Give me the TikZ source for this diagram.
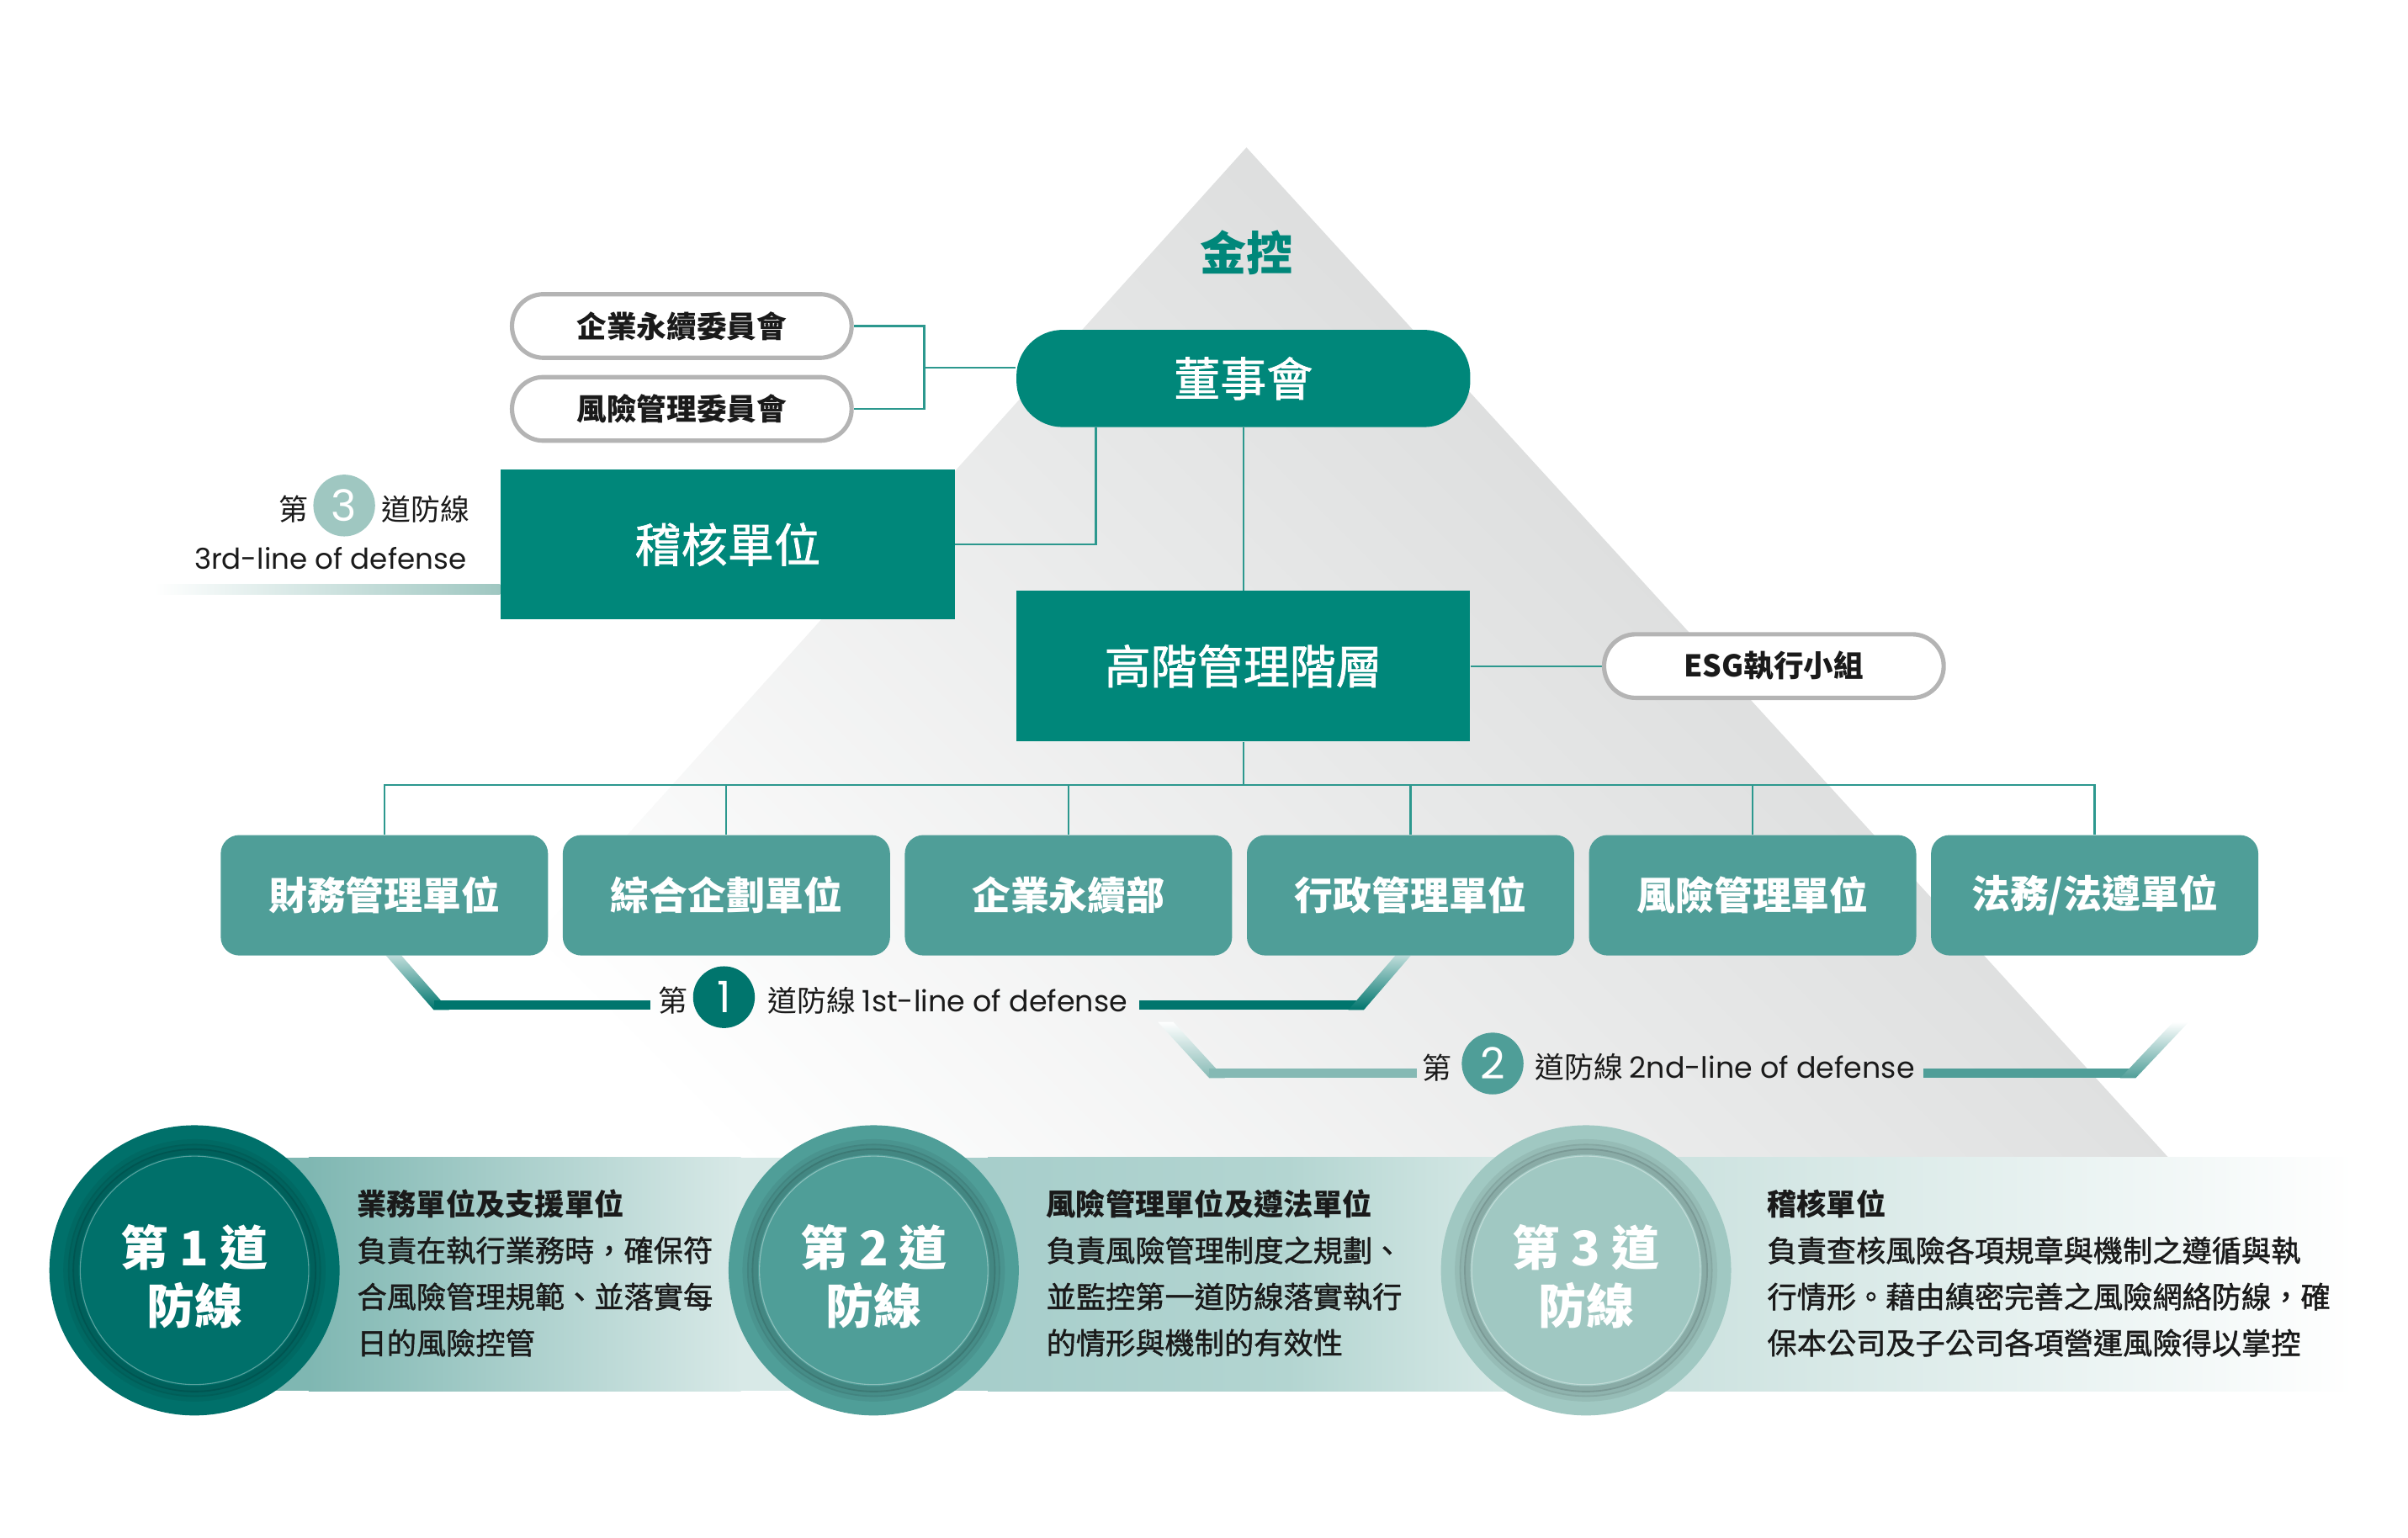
\documentclass[tikz,border=0pt]{standalone}
\usepackage{fontspec}
\setmainfont{Noto Sans CJK TC}
\newfontfamily\cjkmed[FakeBold=1.3]{Noto Sans CJK TC}
\newfontfamily\lat{Poppins}
\definecolor{tealA}{HTML}{00877A}
\definecolor{tealU}{HTML}{4F9E98}
\definecolor{tealD}{HTML}{00756D}
\definecolor{tealL}{HTML}{9FC7C1}
\definecolor{tealM}{HTML}{85B9B4}
\definecolor{lineC}{HTML}{2C988E}
\definecolor{pillB}{HTML}{B4B4B4}
\definecolor{pyrD}{HTML}{D3D4D4}
\definecolor{pyrM}{HTML}{E8E9E9}
\definecolor{txt}{HTML}{1A1A1A}
\definecolor{cA}{HTML}{00706A}
\definecolor{cB}{HTML}{4F9E98}
\definecolor{cC}{HTML}{A0C8C2}
\definecolor{bOneL}{HTML}{7FB7B2}
\definecolor{bOneR}{HTML}{D8E9E7}
\definecolor{bTwoL}{HTML}{A7CECB}
\definecolor{bTwoM}{HTML}{B3D5D1}
\definecolor{bTwoR}{HTML}{E4F0EE}
\definecolor{bThrL}{HTML}{C5DEDB}
\pgfdeclarelayer{back}
\pgfdeclarelayer{wires}
\pgfsetlayers{back,wires,main}
\begin{document}
\begin{tikzpicture}[x=0.5pt,y=-0.5pt,
  conn/.style={draw=lineC, line width=0.6pt},
  tealbox/.style={fill=tealA, text=white, minimum width=147pt, minimum height=48.7pt, inner sep=0pt, font=\cjkmed\fontsize{15}{18}\selectfont},
  pill/.style={draw=pillB, line width=1.4pt, fill=white, rounded corners=10.2pt, minimum width=110pt, minimum height=20.6pt, inner sep=0pt, text=txt, font=\bfseries\fontsize{9.7}{11}\selectfont},
  unitbox/.style={fill=tealU, text=white, rounded corners=6pt, minimum width=106pt, minimum height=39pt, inner sep=0pt, font=\bfseries\fontsize{12.5}{14}\selectfont},
  numc/.style={circle, inner sep=0pt, minimum size=20pt, text=white, font=\lat\fontsize{14}{14}\selectfont},
  bigc/.style={circle, inner sep=0pt, minimum size=94pt},
  ctext/.style={align=center, text=white, inner sep=0pt, font=\bfseries\fontsize{15.5}{19}\selectfont},
  lbl/.style={inner sep=0pt, text=txt, font=\fontsize{9.5}{11}\selectfont},
  body/.style={anchor=west, inner sep=0pt, text=txt, font=\cjkmed\fontsize{9.6}{12}\selectfont},
  bodyt/.style={body, font=\bfseries\fontsize{9.6}{12}\selectfont}
]
\useasboundingbox (0,0) rectangle (1560,996);

% ---------- background pyramid and band ----------
\begin{pgfonlayer}{back}
\shade[top color=pyrD, bottom color=white, middle color=pyrM, shading angle=-45]
  (807.5,95.5) -- (1414,760) -- (209,760) -- cycle;
\fill[bOneL] (126,750) rectangle (201,901);
\shade[left color=bOneL, right color=bOneR] (200,750) rectangle (480,901);
\fill[bOneR] (479,750) rectangle (566,901);
\fill[bTwoL] (566,750) rectangle (641,901);
\shade[left color=bTwoL, right color=bTwoR, middle color=bTwoM] (640,750) rectangle (1028,901);
\shade[left color=bThrL, right color=white] (1027,750) rectangle (1525,901);
\end{pgfonlayer}

% ---------- top structure ----------
\node[font=\bfseries\fontsize{15}{18}\selectfont, text=tealA, inner sep=0pt] (jk) at (807.5,163.5) {金控};
\node[tealbox, rounded corners=15pt, minimum height=31.5pt] (board) at (805.5,245.2) {董事會};
\node[pill] (com1) at (441.7,211.2) {企業永續委員會};
\node[pill] (com2) at (441.7,264.9) {風險管理委員會};
\node[tealbox] (audit) at (471.4,352.7) {稽核單位};
\node[tealbox] (senior) at (805.5,431.5) {高階管理階層};
\node[pill] (esg) at (1149.2,431.5) {ESG執行小組};

\node[unitbox] (u1) at (249,580) {財務管理單位};
\node[unitbox] (u2) at (470.6,580) {綜合企劃單位};
\node[unitbox] (u3) at (692.2,580) {企業永續部};
\node[unitbox] (u4) at (913.8,580) {行政管理單位};
\node[unitbox] (u5) at (1135.4,580) {風險管理單位};
\node[unitbox] (u6) at (1357,580) {法務/法遵單位};

\coordinate (jc) at (598.8,238);
\coordinate (aj) at (710,352.7);
\coordinate (bus) at (805.5,508.5);

\begin{pgfonlayer}{wires}
\draw[conn] (com1.east) -| (jc) |- (com2.east);
\draw[conn] (jc) -- (jc -| board.west);
\draw[conn] (board.south -| aj) -- (aj) -- (audit.east);
\draw[conn] (board.south) -- (senior.north);
\draw[conn] (senior.east) -- (esg.west);
\draw[conn] (senior.south) -- (bus);
\draw[conn] (u1.north) |- (bus);
\draw[conn] (u2.north) |- (bus);
\draw[conn] (u3.north) |- (bus);
\draw[conn] (u4.north) |- (bus);
\draw[conn] (u5.north) |- (bus);
\draw[conn] (u6.north) |- (bus);

% line 1 bracket
\shade[top color=tealD!25, bottom color=tealD] (250,619) -- (260,619) -- (291,654.3) -- (281,654.3) -- cycle;
\fill[tealD] (281,648) rectangle (421.5,654.3);
\fill[tealD] (738,648) rectangle (883.5,654.3);
\shade[top color=tealD!25, bottom color=tealD] (873.5,654.3) -- (883.5,654.3) -- (914,619) -- (904,619) -- cycle;
% line 2 bracket
\shade[top color=white, bottom color=tealM] (750,662) -- (760,662) -- (793.5,698.5) -- (783.5,698.5) -- cycle;
\fill[tealM] (783.5,692.5) rectangle (918,698.5);
\fill[tealU] (1246,692.5) rectangle (1383.5,698.5);
\shade[top color=white, bottom color=tealU] (1373.5,698.5) -- (1383.5,698.5) -- (1418,662) -- (1408,662) -- cycle;
% line 3 bar
\shade[left color=white, right color=tealL] (100,378.7) rectangle (324,385.2);
\end{pgfonlayer}

% ---------- line labels ----------
\node[lbl] (l1a) at (436,648) {第};
\node[numc, fill=tealD] (l1n) at (469,646) {1};
\node[lbl, anchor=west] (l1b) at (497,648) {道防線 {\lat 1st-line of defense}};

\node[lbl] (l2a) at (931,691.5) {第};
\node[numc, fill=tealU] (l2n) at (967,689) {2};
\node[lbl, anchor=west] (l2b) at (994,691.5) {道防線 {\lat 2nd-line of defense}};

\node[lbl] (l3a) at (190,330) {第};
\node[numc, fill=tealL] (l3n) at (223,327.5) {3};
\node[lbl, anchor=west] (l3b) at (247,330) {道防線};
\node[lbl, anchor=base east, font=\lat\fontsize{9.3}{11}\selectfont] (l3e) at (302.5,369) {3rd-line of defense};

% ---------- bottom circles ----------
\node[bigc, fill=cA] (k1) at (126,823) {};
\node[bigc, fill=cB] (k2) at (566,823) {};
\node[bigc, fill=cC] (k3) at (1027.5,823) {};
\foreach \k/\c in {k1/cA,k2/cB,k3/cC}{
  \draw[black, opacity=0.06, line width=2pt] (\k.center) circle (83);
  \draw[black, opacity=0.10, line width=2pt] (\k.center) circle (80);
  \draw[black, opacity=0.14, line width=2pt] (\k.center) circle (77);
  \fill[\c] (\k.center) circle (74);
  \draw[white, opacity=0.35, line width=0.3pt] (\k.center) circle (74);
}
\node[ctext] (t1) at (126,827) {第 1 道\\防線};
\node[ctext] (t2) at (566,827) {第 2 道\\防線};
\node[ctext] (t3) at (1027.5,827) {第 3 道\\防線};

% ---------- descriptions ----------
\node[bodyt] (a1) at (231,780) {業務單位及支援單位};
\node[body]  (a2) at (231,810) {負責在執行業務時，確保符};
\node[body]  (a3) at (231,840) {合風險管理規範、並落實每};
\node[body]  (a4) at (231,870) {日的風險控管};

\node[bodyt] (b1) at (677.5,780) {風險管理單位及遵法單位};
\node[body]  (b2) at (677.5,810) {負責風險管理制度之規劃、};
\node[body]  (b3) at (677.5,840) {並監控第一道防線落實執行};
\node[body]  (b4) at (677.5,870) {的情形與機制的有效性};

\node[bodyt] (c1) at (1144.5,780) {稽核單位};
\node[body]  (c2) at (1144.5,810) {負責查核風險各項規章與機制之遵循與執};
\node[body]  (c3) at (1144.5,840) {行情形。藉由縝密完善之風險網絡防線，確};
\node[body]  (c4) at (1144.5,870) {保本公司及子公司各項營運風險得以掌控};
\end{tikzpicture}
\end{document}
